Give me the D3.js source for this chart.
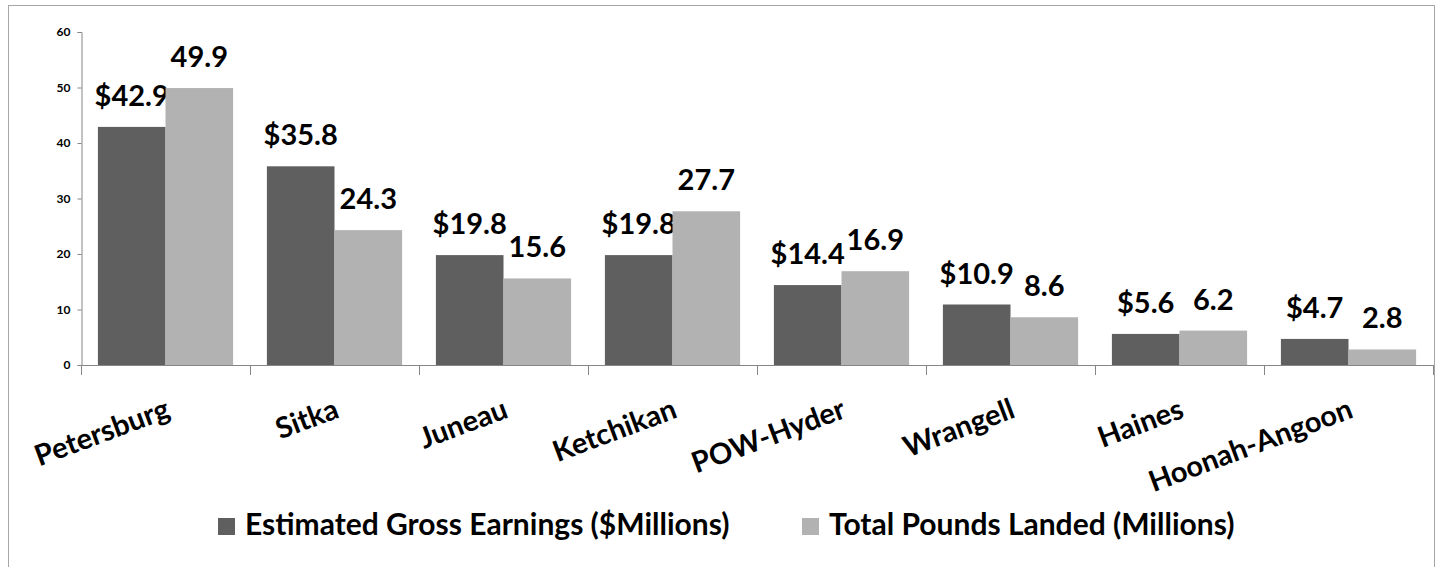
<!DOCTYPE html>
<html>
<head>
<meta charset="utf-8">
<script src="https://cdn.jsdelivr.net/npm/d3@7"></script>
<style>
  html, body { margin: 0; padding: 0; background: #fff; }
  svg { display: block; font-family: Lato, "Open Sans", sans-serif; font-weight: 700; }
</style>
</head>
<body>
<svg id="chart" width="1442" height="567"></svg>
<script>
// Southeast Alaska communities: earnings and pounds landed
const categories = ["Petersburg", "Sitka", "Juneau", "Ketchikan", "POW-Hyder", "Wrangell", "Haines", "Hoonah-Angoon"];
const grossEarnings = [42.9, 35.8, 19.8, 19.8, 14.4, 10.9, 5.6, 4.7];
const poundsLanded = [49.9, 24.3, 15.6, 27.7, 16.9, 8.6, 6.2, 2.8];
const seriesNames = ["Estimated Gross Earnings ($Millions)", "Total Pounds Landed (Millions)"];
const seriesColors = ["#5f5f5f", "#b2b2b2"];
const yTicks = [0, 10, 20, 30, 40, 50, 60];

const series = [
  { key: "gross", name: seriesNames[0], color: seriesColors[0], values: grossEarnings, fmt: v => "$" + v.toFixed(1) },
  { key: "pounds", name: seriesNames[1], color: seriesColors[1], values: poundsLanded, fmt: v => v.toFixed(1) }
];

const svg = d3.select("#chart");
const axisColor = "#868686";

// outer frame
svg.append("rect")
  .attr("x", 8.5).attr("y", 5.5)
  .attr("width", 1426).attr("height", 570)
  .attr("fill", "none").attr("stroke", "#a6a6a6").attr("stroke-width", 1);

const plot = { left: 81, right: 1433, top: 32, bottom: 365 };

const y = d3.scaleLinear().domain([0, 60]).range([plot.bottom, plot.top]);
const x0 = d3.scaleBand().domain(categories).range([plot.left, plot.right])
  .paddingInner(0.2).paddingOuter(0.1);
const x1 = d3.scaleBand().domain(series.map(s => s.key)).range([0, x0.bandwidth()]);

// y axis
const yAxis = d3.axisLeft(y).tickValues(yTicks).tickSize(4).tickPadding(7).tickFormat(d3.format("d"));
const yg = svg.append("g").attr("transform", `translate(${plot.left + 0.5},0)`).call(yAxis);
yg.select(".domain").attr("stroke", axisColor);
yg.selectAll(".tick line").attr("stroke", axisColor);
yg.selectAll(".tick text").attr("fill", "#000").attr("font-size", 12).attr("font-weight", 700)
  .attr("font-family", "Lato, sans-serif");

// bars
const groups = svg.append("g").selectAll("g").data(categories).join("g")
  .attr("transform", d => `translate(${x0(d)},0)`);

series.forEach(s => {
  groups.append("rect")
    .attr("x", x1(s.key))
    .attr("width", x1.bandwidth())
    .attr("y", (d, i) => y(s.values[i]))
    .attr("height", (d, i) => y(0) - y(s.values[i]))
    .attr("fill", s.color);
  groups.append("text")
    .attr("x", x1(s.key) + x1.bandwidth() / 2)
    .attr("y", (d, i) => y(s.values[i]) - 21)
    .attr("text-anchor", "middle")
    .attr("font-size", 29)
    .attr("fill", "#000")
    .text((d, i) => s.fmt(s.values[i]));
});

// x axis line with boundary ticks between categories
const xg = svg.append("g");
xg.append("line")
  .attr("x1", plot.left).attr("x2", plot.right)
  .attr("y1", plot.bottom + 0.5).attr("y2", plot.bottom + 0.5)
  .attr("stroke", axisColor);
const boundaries = categories.map(c => x0(c) - x0.step() * x0.paddingOuter()).concat([plot.right]);
xg.selectAll("line.tick").data(boundaries).join("line").attr("class", "tick")
  .attr("x1", d => Math.round(d) + 0.5).attr("x2", d => Math.round(d) + 0.5)
  .attr("y1", plot.bottom).attr("y2", plot.bottom + 10)
  .attr("stroke", axisColor);

// rotated category labels
xg.selectAll("text").data(categories).join("text")
  .attr("transform", d => `translate(${x0(d) + x0.bandwidth() / 2 + 6},417) rotate(-20.5)`)
  .attr("text-anchor", "end")
  .attr("font-size", 29)
  .attr("fill", "#000")
  .text(d => d);

// legend
const legendX = [218, 802];
const legend = svg.append("g").selectAll("g").data(series).join("g")
  .attr("transform", (d, i) => `translate(${legendX[i]},518)`);
legend.append("rect").attr("width", 17).attr("height", 17).attr("fill", d => d.color);
legend.append("text").attr("x", 27).attr("y", 17)
  .attr("font-size", 30).attr("fill", "#000")
  .text(d => d.name);
</script>
</body>
</html>
